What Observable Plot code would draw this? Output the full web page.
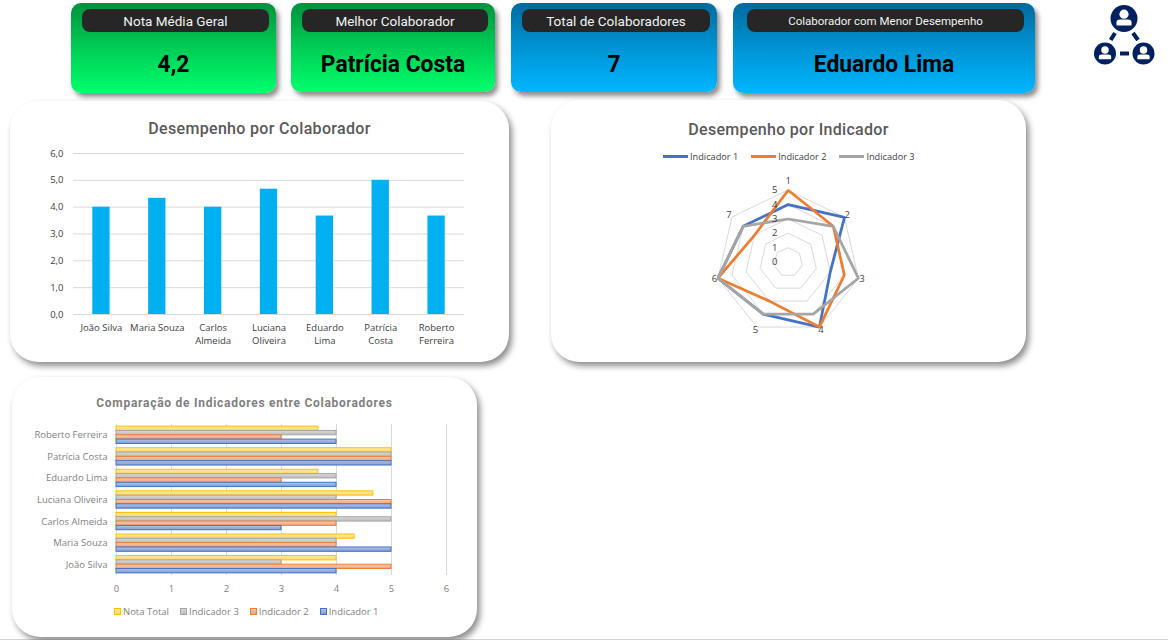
<!DOCTYPE html>
<html><head><meta charset="utf-8">
<script src="https://cdn.jsdelivr.net/npm/d3@7"></script>
<script src="https://cdn.jsdelivr.net/npm/@observablehq/plot@0.6"></script>
<style>
html,body{margin:0;padding:0;background:#fff;width:1168px;height:640px;overflow:hidden;font-family:"Open Sans",sans-serif}
.abs{position:absolute}
.kpi{position:absolute;border-radius:10px;box-shadow:3px 4px 5px rgba(0,0,0,.45);text-align:center}
.green{background:linear-gradient(#00913f,#00c853 45%,#00ff6c)}
.blue{background:linear-gradient(#006a9e,#0090cf 45%,#00b6ff)}
.pill{position:absolute;left:11px;right:7px;top:6px;height:23px;border-radius:8px;background:#262626;color:#f2f2f2;font:400 13.5px/25px Roboto,sans-serif}
.val{position:absolute;left:0;right:0;top:46px;font:700 24px/30px Roboto,sans-serif;color:#000;transform:scaleX(.95)}
.panel{position:absolute;background:#fff;border-radius:28px;box-shadow:3px 4px 6px rgba(0,0,0,.45)}
.title{position:absolute;left:0;right:0;text-align:center;font-family:Roboto,sans-serif;font-weight:500;color:#595959}
.legend{position:absolute;display:flex;align-items:center;font-size:9.2px;color:#404040;white-space:nowrap}
.panel svg{position:absolute;left:0;top:0;background:transparent}
</style></head><body>
<div class="abs" style="left:0;top:639px;width:1168px;height:1px;background:#d4d4d4"></div>
<div id="root"></div>
<script>
const collaborators = ["João Silva","Maria Souza","Carlos Almeida","Luciana Oliveira","Eduardo Lima","Patrícia Costa","Roberto Ferreira"];
const wrappedLabels = ["João Silva","Maria Souza","Carlos\nAlmeida","Luciana\nOliveira","Eduardo\nLima","Patrícia\nCosta","Roberto\nFerreira"];
const indicador1 = [4,5,3,5,4,5,4];
const indicador2 = [5,4,4,5,3,5,3];
const indicador3 = [3,4,5,4,4,5,4];
const notaTotal = [4,4.33,4,4.67,3.67,5,3.67];
const radarAxes = ["1","2","3","4","5","6","7"];
const radarRings = [1,2,3,4,5];
const radarTicks = [0,1,2,3,4,5];
const barTicks = [0,1,2,3,4,5,6];
const kpis = [
 {t:"Nota Média Geral",v:"4,2",c:"green",x:71,y:3,w:205,h:90},
 {t:"Melhor Colaborador",v:"Patrícia Costa",c:"green",x:291,y:3,w:204,h:89},
 {t:"Total de Colaboradores",v:"7",c:"blue",x:511,y:3,w:206,h:89},
 {t:"Colaborador com Menor Desempenho",v:"Eduardo Lima",c:"blue",x:733,y:3,w:302,h:90,small:true}
];
const root = document.getElementById("root");
const FONT = '"Open Sans",sans-serif';
function el(cls,styles,html){const d=document.createElement("div");d.className=cls;Object.assign(d.style,styles||{});if(html!=null)d.innerHTML=html;return d;}
kpis.forEach(k=>{
  const c=el("kpi "+k.c,{left:k.x+"px",top:k.y+"px",width:k.w+"px",height:k.h+"px"});
  const p=el("pill",k.small?{fontSize:"11.5px",left:"14px",right:"11px"}:{},k.t);
  c.append(p,el("val",{},k.v));root.append(c);
});
// icon
root.insertAdjacentHTML("beforeend",`<svg class="abs" style="left:1090px;top:0" width="70" height="72" viewBox="0 0 70 72">
<defs><g id="person"><circle r="1" fill="#002060"/><circle cy="-.32" r=".34" fill="#fff"/><path d="M-.56 .52 V.3 Q-.56 .08 -.3 .08 H.3 Q.56 .08 .56 .3 V.52 Z" fill="#fff"/></g></defs>
<use href="#person" transform="translate(34 18.500) scale(13.500)"/>
<use href="#person" transform="translate(15 53.500) scale(11)"/>
<use href="#person" transform="translate(53.500 53.500) scale(11)"/>
<path d="M25 33 L20.700 40 M43 33 L48 40 M30 53.500 H39" stroke="#002060" stroke-width="4" fill="none"/></svg>`);

// Panel 1
const p1=el("panel",{left:"10px",top:"101px",width:"499px",height:"261px"});
p1.append(el("title",{top:"18px",fontSize:"16px",letterSpacing:".33px"},"Desempenho por Colaborador"));
const barData=collaborators.map((n,i)=>({n,label:wrappedLabels[i],v:notaTotal[i]}));
p1.append(Plot.plot({
  width:499,height:261,marginLeft:63,marginRight:45,marginTop:52,marginBottom:48,
  style:{background:"transparent",fontFamily:FONT,fontSize:"9.5px",color:"#404040"},
  x:{domain:collaborators,paddingInner:.69,paddingOuter:.345,align:.5,round:false,label:null},
  y:{domain:[0,6],label:null},
  marks:[
    Plot.ruleY([0,1,2,3,4,5,6],{stroke:"#d9d9d9",strokeOpacity:1}),
    Plot.barY(barData,{x:"n",y:"v",fill:"#00b0f0"}),
    Plot.axisY({ticks:[0,1,2,3,4,5,6],tickSize:0,tickPadding:10,tickFormat:d=>d.toFixed(1).replace(".",","),label:null}),
    Plot.axisX({tickSize:0,tickPadding:8,label:null,tickFormat:d=>wrappedLabels[collaborators.indexOf(d)],lineHeight:1.3})
  ]}));
root.append(p1);

// Panel 2 radar
const p2=el("panel",{left:"551px",top:"100px",width:"475px",height:"262px"});
p2.append(el("title",{top:"20px",fontSize:"16px",letterSpacing:".3px"},"Desempenho por Indicador"));
const W2=475,H2=262,U=14.4,CX=236.7,CY=161.7;
const ang=i=>i*2*Math.PI/7;
const px=(r,i)=>r*Math.sin(ang(i));
const py=(r,i)=>r*Math.cos(ang(i));
const rings=radarRings.flatMap(r=>radarAxes.map((a,i)=>({r,i})));
const series=[["Indicador 1",indicador1,"#4472c4"],["Indicador 2",indicador2,"#ed7d31"],["Indicador 3",indicador3,"#a5a5a5"]];
p2.append(Plot.plot({
  width:W2,height:H2,margin:0,
  style:{background:"transparent",fontFamily:FONT,fontSize:"9.5px"},
  x:{domain:[-CX/U,(W2-CX)/U],range:[0,W2],axis:null},
  y:{domain:[(CY-H2)/U,CY/U],range:[H2,0],axis:null},
  marks:[
    Plot.line(rings,{x:d=>px(d.r,d.i),y:d=>py(d.r,d.i),z:"r",stroke:"#d9d9d9",strokeWidth:1,curve:"linear-closed"}),
    ...series.map(([n,vals,c])=>Plot.line(vals.map((v,i)=>({v,i})),{x:d=>px(d.v,d.i),y:d=>py(d.v,d.i),stroke:c,strokeWidth:2.75,curve:"linear-closed",strokeLinejoin:"miter"})),
    Plot.text(radarTicks,{x:0,y:d=>d,text:d=>String(d),dx:-13.5,fill:"#404040"}),
    Plot.text(radarAxes,{x:(d,i)=>px(i==0?5.65:5.25,i),y:(d,i)=>py(i==0?5.65:5.25,i),text:d=>d,fill:"#404040"})
  ]}));
const lg2=el("legend",{left:"112px",top:"50px"});
series.forEach(([n,v,c],i)=>{
  lg2.append(el("",{width:"25px",height:"3px",background:c,marginRight:"2px",marginLeft:i?"13px":"0"}),el("",{},n));
});
p2.append(lg2);
root.append(p2);

// Panel 3
const p3=el("panel",{left:"12px",top:"377px",width:"465px",height:"260px"});
p3.append(el("title",{top:"19px",fontSize:"12px",fontWeight:"700",letterSpacing:".73px",color:"#7f7f7f"},"Comparação de Indicadores entre Colaboradores"));
const hSeries=[["Nota Total",notaTotal,"#ffc000","g0","#ffe9a8","#ffd966"],["Indicador 3",indicador3,"#a5a5a5","g1","#d9d9d9","#bdbdbd"],["Indicador 2",indicador2,"#ed7d31","g2","#f8cbad","#f4a27a"],["Indicador 1",indicador1,"#4472c4","g3","#b4c7e7","#7c9bd6"]];
const tidy=hSeries.flatMap(([s,vals])=>vals.map((v,i)=>({s,v,c:collaborators[i]})));
const chart3=Plot.plot({
  width:465,height:260,marginLeft:104,marginRight:31,marginTop:47,marginBottom:62,
  style:{background:"transparent",fontFamily:FONT,fontSize:"9.5px",color:"#7f7f7f"},
  x:{domain:[0,6],label:null},
  fy:{domain:[...collaborators].reverse(),padding:0,round:false,label:null},
  y:{domain:hSeries.map(d=>d[0]),paddingInner:0,paddingOuter:.49,round:false,axis:null},
  marks:[
    Plot.ruleX(barTicks,{stroke:"#d9d9d9"}),
    ...hSeries.map(([s,,c,g])=>Plot.barX(tidy.filter(d=>d.s===s),{x:"v",y:"s",fy:"c",fill:`url(#${g})`,stroke:c,strokeWidth:1})),
    Plot.axisX({anchor:"bottom",ticks:barTicks,tickSize:0,tickPadding:10,label:null,tickFormat:d=>String(d)}),
    Plot.axisFy({anchor:"left",tickSize:0,tickPadding:9,label:null})
  ]});
const defs=d3.select(chart3).append("defs");
hSeries.forEach(([,,,g,a,b])=>{
  const lg=defs.append("linearGradient").attr("id",g).attr("x1",0).attr("x2",0).attr("y1",0).attr("y2",1);
  lg.append("stop").attr("offset","0%").attr("stop-color",a);
  lg.append("stop").attr("offset","100%").attr("stop-color",b);
});
p3.append(chart3);
const lg3=el("legend",{left:"102px",top:"228px",color:"#7f7f7f",fontSize:"9.5px"});
hSeries.forEach(([n,,c,g,a,b],i)=>{
  lg3.append(el("",{width:"5px",height:"5px",border:"1px solid "+c,background:`linear-gradient(${a},${b})`,marginRight:"2px",marginLeft:i?"11px":"0"}),el("",{},n));
});
p3.append(lg3);
root.append(p3);
</script></body></html>
